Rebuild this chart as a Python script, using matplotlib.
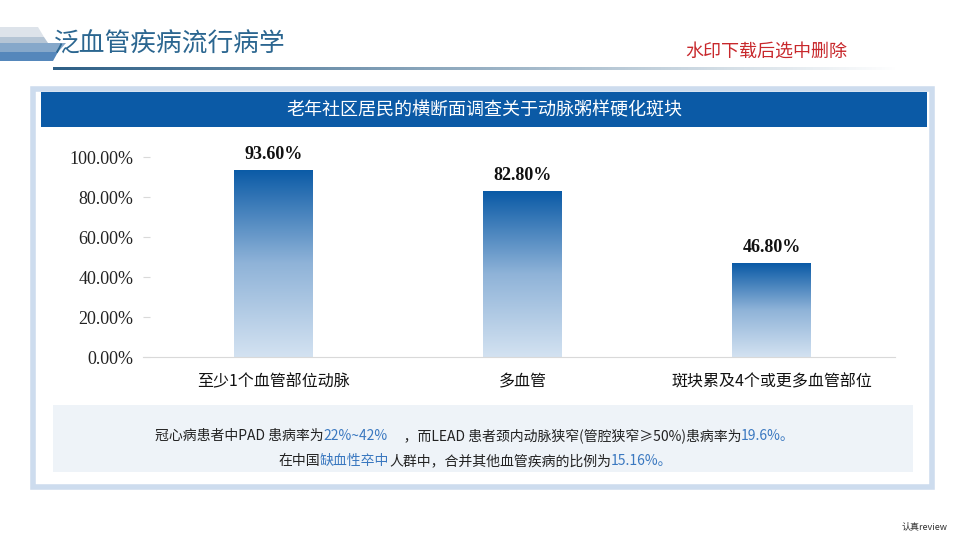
import matplotlib
matplotlib.use('Agg')
import matplotlib.pyplot as plt
import numpy as np
from matplotlib.colors import LinearSegmentedColormap
from matplotlib.patches import Rectangle, Polygon
from matplotlib.text import Annotation

plt.rcParams['font.family'] = ['Noto Sans CJK SC', 'DejaVu Sans']

# chart data
categories = ['至少1个血管部位动脉', '多血管', '斑块累及4个或更多血管部位']
values = [93.6, 82.8, 46.8]
value_labels = ['93.60%', '82.80%', '46.80%']
y_ticks = [0, 20, 40, 60, 80, 100]
y_tick_labels = ['0.00%', '20.00%', '40.00%', '60.00%', '80.00%', '100.00%']

page_title = '泛血管疾病流行病学'
watermark = '水印下载后选中删除'
chart_title = '老年社区居民的横断面调查关于动脉粥样硬化斑块'
note_line1 = [('冠心病患者中PAD 患病率为', 'k'), ('22%~42%', 'b'),
              ('     ，而LEAD 患者颈内动脉狭窄(管腔狭窄≥50%)患病率为', 'k'), ('19.6%。', 'b')]
note_line2 = [('在中国', 'k'), ('缺血性卒中', 'b'),
              ('人群中，合并其他血管疾病的比例为', 'k'), ('15.16%。', 'b')]

W, H = 966, 543
fig = plt.figure(figsize=(W / 100, H / 100), dpi=100)


def fx(x):
    return x / W


def fy(y):
    return 1 - y / H


def frect(x0, y0, x1, y1, **kw):
    return Rectangle((fx(x0), fy(y1)), fx(x1) - fx(x0), fy(y0) - fy(y1),
                     transform=fig.transFigure, zorder=-5, **kw)


# top-left icon (stacked slanted plates)
icon = [
    ([(0, 27), (38, 27), (44, 37), (0, 37)], '#dde3ea'),
    ([(0, 37), (44, 37), (48, 43), (0, 43)], '#b5c5d5'),
    ([(0, 43), (66, 43), (58, 52), (0, 52)], '#86a8ca'),
    ([(0, 52), (58, 52), (53, 61), (0, 61)], '#5587bb'),
]
for pts, c in icon:
    fig.patches.append(Polygon([(fx(a), fy(b)) for a, b in pts], closed=True, zorder=-5,
                               transform=fig.transFigure, facecolor=c, edgecolor='none'))

fig.text(fx(54), fy(45), page_title, fontsize=18.5, color='#2b6690', ha='left', va='center')
fig.text(fx(685), fy(52), watermark, fontsize=13, color='#c8282c', ha='left', va='center')

# underline with fade
ul = fig.add_axes([fx(53), fy(70), fx(900) - fx(53), 3 / H])
ul.imshow(np.linspace(0, 1, 256)[None, :], aspect='auto',
          cmap=LinearSegmentedColormap.from_list('ul', ['#2d5f86', '#ffffff']))
ul.axis('off')

# outer frame, header bar, note box
fig.patches.append(frect(33, 89, 932, 487, facecolor='white', edgecolor='#cddcee', linewidth=4))
fig.patches.append(frect(41, 92, 927, 127, facecolor='#0b5aa6', edgecolor='none'))
fig.text(fx(484), fy(110), chart_title, fontsize=13, color='white', ha='center', va='center')
fig.patches.append(frect(53, 405, 913, 472, facecolor='#eef3f8', edgecolor='none'))

# bar chart
ax = fig.add_axes([fx(143), fy(357), fx(895) - fx(143), fy(157) - fy(357)])
x = np.arange(len(categories))
bars = ax.bar(x, values, width=0.317, color='none', edgecolor='none', zorder=2)
grad_cmap = LinearSegmentedColormap.from_list('bar', ['#d3e2f1', '#8fb3d8', '#0a5aa6'])
grad = np.linspace(0, 1, 256)[:, None]
for b in bars:
    x0, w, h = b.get_x(), b.get_width(), b.get_height()
    im = ax.imshow(grad, extent=[x0, x0 + w, 0, h], origin='lower', aspect='auto',
                   cmap=grad_cmap, zorder=2)
    im.set_clip_path(b)
for b, lab in zip(bars, value_labels):
    ax.annotate(lab, (b.get_x() + b.get_width() / 2, b.get_height()),
                xytext=(0, 5), textcoords='offset points', ha='center', va='bottom',
                fontsize=13, fontweight='bold', family='Liberation Serif', color='#111111',
                annotation_clip=False)

ax.set_xlim(-0.524, 2.496)
ax.set_ylim(0, 100)
ax.set_yticks(y_ticks)
ax.set_yticklabels(y_tick_labels, family='Liberation Serif', fontsize=13, color='#222222')
ax.set_xticks(x)
ax.set_xticklabels(categories, fontsize=11.5, color='#111111')
ax.tick_params(axis='x', length=0, pad=12)
ax.tick_params(axis='y', direction='in', length=5, color='#d9d9d9', pad=7)
for s in ['top', 'right', 'left']:
    ax.spines[s].set_visible(False)
ax.spines['bottom'].set_color('#d9d9d9')
ax.patch.set_alpha(0)

# note lines built from coloured pieces
colors = {'k': '#222222', 'b': '#3a78c0'}


def chain(pieces, x0, y0):
    t = fig.text(fx(x0), fy(y0), pieces[0][0], fontsize=10,
                 color=colors[pieces[0][1]], ha='left', va='center')
    for txt, c in pieces[1:]:
        t = fig.add_artist(Annotation(txt, xy=(1, 0), xycoords=t, xytext=(0, 0),
                                      textcoords='offset points', fontsize=10,
                                      color=colors[c], ha='left', va='bottom'))


chain(note_line1, 155, 436)
chain(note_line2, 278, 461)

fig.text(fx(902), fy(527), '认真review', fontsize=6.5, color='#333333', ha='left', va='center')

fig.savefig('out.png', dpi=100)
